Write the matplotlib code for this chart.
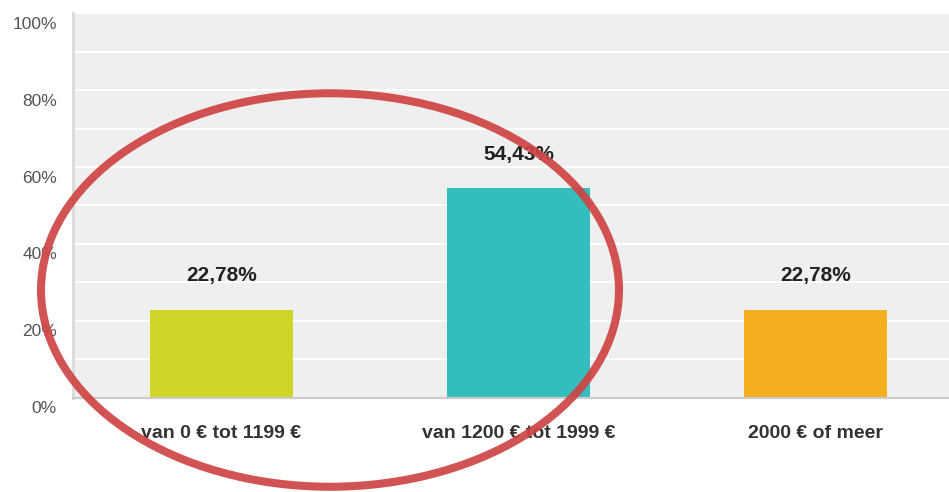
import matplotlib
matplotlib.use("Agg")
import matplotlib.pyplot as plt
from matplotlib.patches import Ellipse
from matplotlib.transforms import offset_copy

categories = ["van 0 € tot 1199 €", "van 1200 € tot 1999 €", "2000 € of meer"]
values = [22.78, 54.43, 22.78]
value_labels = ["22,78%", "54,43%", "22,78%"]
bar_colors = ["#cfd628", "#33bdbd", "#f5ae1e"]
y_ticks = [0, 20, 40, 60, 80, 100]

plt.rcParams["font.family"] = ["Liberation Sans", "DejaVu Sans"]

fig = plt.figure(figsize=(9.49, 4.92), dpi=100)
# axes run slightly past the right edge, as in the cropped original
ax = fig.add_axes([73 / 949, 94.5 / 492, 891 / 949, 384 / 492])
ax.set_facecolor("#efefef")

x = list(range(len(categories)))
ax.bar(x, values, width=0.48, color=bar_colors, zorder=3)

ax.set_xlim(-0.5, 2.5)
ax.set_ylim(0, 100)
ax.set_yticks(range(0, 101, 10))
ax.yaxis.grid(True, color="white", lw=1.5, zorder=1)
ax.tick_params(axis="y", length=0, labelleft=False)
ax.tick_params(axis="x", length=0, pad=20)
ax.set_xticks(x)
ax.set_xticklabels(categories, fontsize=14, fontweight="bold", color="#333333")

for s in ("top", "right"):
    ax.spines[s].set_visible(False)
ax.spines["left"].set_color("#dcdcdc")
ax.spines["left"].set_linewidth(2.2)
ax.spines["bottom"].set_color("#cccccc")
ax.spines["bottom"].set_linewidth(1.6)
ax.spines["bottom"].set_zorder(4)

# y labels sit a little below their gridline
ylab_tr = offset_copy(ax.get_yaxis_transform(), fig=fig, x=-16, y=-11, units="dots")
for t in y_ticks:
    ax.text(0, t, f"{t}%", transform=ylab_tr, ha="right", va="center",
            fontsize=12.5, color="#555555", clip_on=False)

for xi, v, lab in zip(x, values, value_labels):
    ax.annotate(lab, (xi, v), xytext=(0, 24.5), textcoords="offset points",
                ha="center", va="center", fontsize=15, fontweight="bold",
                color="#222222", zorder=5)

# hand-drawn red circle overlay
ell = Ellipse((330 / 949, 1 - 290 / 492), 578 / 949, 393.5 / 492,
              transform=fig.transFigure, fill=False, edgecolor="#cf4444",
              lw=5.8, alpha=0.92, zorder=10)
fig.add_artist(ell)

fig.savefig("out.png", dpi=100)
